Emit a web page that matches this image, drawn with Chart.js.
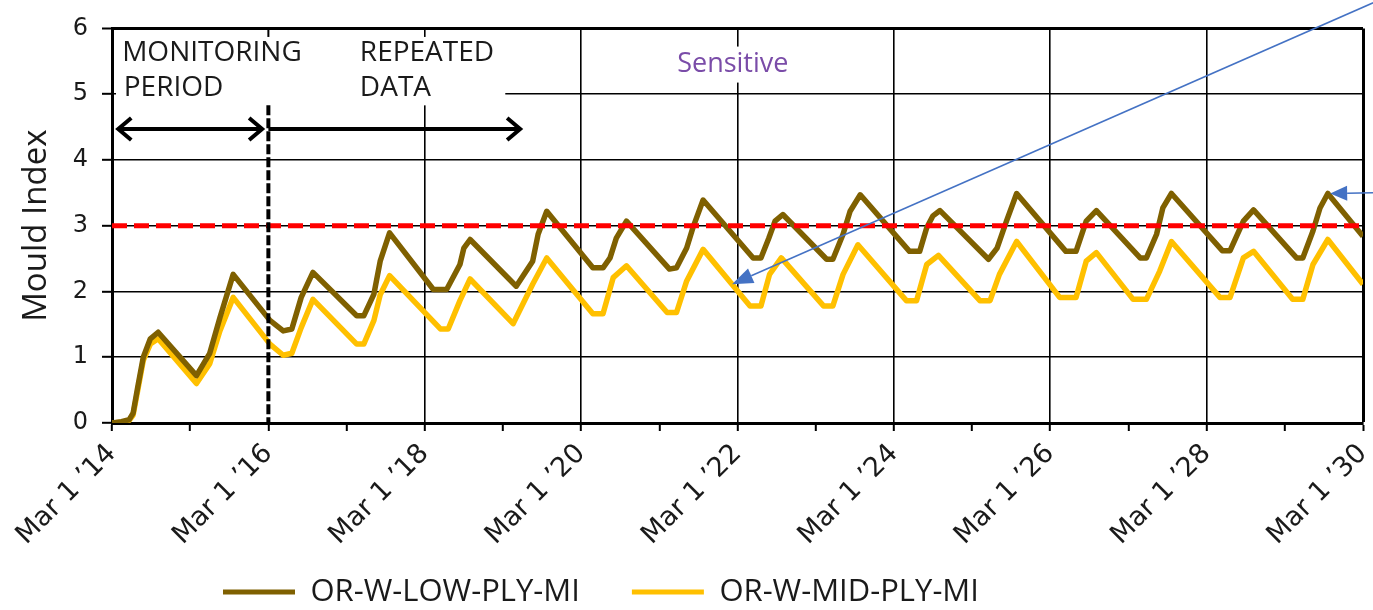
<!DOCTYPE html>
<html>
<head>
<meta charset="utf-8">
<script src="https://cdn.jsdelivr.net/npm/chart.js@4/dist/chart.umd.min.js"></script>
<style>
html,body{margin:0;padding:0;background:#fff;overflow:hidden}
canvas{display:block}
</style>
</head>
<body>
<canvas id="c" width="1373" height="610"></canvas>
<script>
// ---------- DATA ----------
const xTickLabels = ["Mar 1 ’14","Mar 1 ’16","Mar 1 ’18","Mar 1 ’20","Mar 1 ’22","Mar 1 ’24","Mar 1 ’26","Mar 1 ’28","Mar 1 ’30"];
const yTickValues = [0,1,2,3,4,5,6];
const seriesNames = ["OR-W-LOW-PLY-MI","OR-W-MID-PLY-MI"];
const thresholdValue = 3;

// years elapsed since Mar 1 '14
const lowYears = [
  0,0.12,0.22,0.27,0.33,0.40,0.49,0.59,
  1.08,1.25,1.38,1.55,
  2.02,2.19,2.3,2.42,2.57,
  3.13,3.22,3.35,3.43,3.55,
  4.11,4.28,4.45,4.5,4.58,
  5.17,5.38,5.45,5.56,
  6.15,6.28,6.37,6.45,6.58,
  7.13,7.22,7.35,7.43,7.56,
  8.2,8.3,8.4,8.48,8.58,
  9.14,9.22,9.35,9.44,9.57,
  10.2,10.33,10.42,10.5,10.59,
  11.21,11.32,11.44,11.57,
  12.2,12.33,12.46,12.59,
  13.15,13.23,13.36,13.44,13.55,
  14.2,14.3,14.47,14.6,
  15.15,15.23,15.36,15.45,15.55,
  16.0
];
const lowValues = [
  0,0.02,0.05,0.15,0.55,1.0,1.28,1.38,
  0.72,1.06,1.6,2.26,
  1.56,1.40,1.43,1.91,2.29,
  1.63,1.63,1.96,2.46,2.89,
  2.03,2.03,2.41,2.66,2.79,
  2.08,2.46,2.87,3.22,
  2.36,2.36,2.51,2.81,3.07,
  2.34,2.36,2.66,2.97,3.39,
  2.51,2.51,2.81,3.07,3.17,
  2.49,2.49,2.87,3.22,3.47,
  2.61,2.61,2.97,3.15,3.23,
  2.49,2.66,3.07,3.49,
  2.61,2.61,3.07,3.23,
  2.51,2.51,2.87,3.27,3.49,
  2.62,2.62,3.07,3.24,
  2.51,2.51,2.92,3.27,3.49,
  2.84
];
const midYears = [
  0,0.12,0.22,0.27,0.33,0.40,0.49,0.59,
  1.08,1.25,1.38,1.55,
  2.02,2.19,2.3,2.42,2.57,
  3.13,3.22,3.35,3.43,3.55,
  4.2,4.3,4.45,4.58,
  5.13,5.38,5.56,
  6.15,6.28,6.41,6.58,
  7.1,7.22,7.35,7.56,
  8.16,8.3,8.41,8.56,
  9.1,9.22,9.35,9.54,
  10.16,10.29,10.42,10.57,
  11.1,11.23,11.35,11.57,
  12.12,12.33,12.46,12.59,
  13.06,13.23,13.4,13.55,
  14.17,14.3,14.47,14.6,
  15.1,15.23,15.36,15.55,
  16.0
];
const midValues = [
  0,0.01,0.04,0.12,0.5,0.95,1.2,1.28,
  0.60,0.90,1.4,1.91,
  1.2,1.03,1.06,1.45,1.88,
  1.2,1.2,1.56,1.95,2.24,
  1.43,1.43,1.86,2.19,
  1.51,2.11,2.51,
  1.66,1.66,2.21,2.39,
  1.68,1.68,2.16,2.64,
  1.78,1.78,2.26,2.51,
  1.78,1.78,2.26,2.71,
  1.86,1.86,2.41,2.55,
  1.86,1.86,2.26,2.76,
  1.91,1.91,2.46,2.59,
  1.88,1.88,2.31,2.76,
  1.91,1.91,2.51,2.61,
  1.88,1.88,2.41,2.79,
  2.11
];

// ---------- STYLE ----------
const FONT = "'Open Sans', 'DejaVu Sans', sans-serif";
const TICK_FONT = "'DejaVu Sans', 'Open Sans', sans-serif";
const LEG_FONT = 31, LEG_PAD = 52;
const toPts = (xs, ys) => xs.map((x, i) => ({x: x, y: ys[i]}));

const annotations = {
  id: 'annotations',
  afterLayout(chart) {
    // let rotated x labels use the space down to the canvas bottom (no clipping)
    const xs = chart.scales.x;
    if (xs) { xs.bottom = chart.height; xs.height = chart.height - xs.top; }
    const L = chart.legend;
    if (!L || !L.lineWidths) return;
    const pad = L.options.labels.padding;
    const start = (L.left + pad + L.right - L.lineWidths[0]) / 2;
    const dx = 223 - start;
    const dy = 592 - (L.top + pad + LEG_FONT / 2);
    L.left += dx; L.right += dx; L.top += dy; L.bottom += dy;
  },
  beforeDatasetsDraw(chart) {
    const {ctx, chartArea: a, scales: {x, y}} = chart;
    ctx.save();
    // white label box over grid (top-left)
    const bx0 = a.left + 4, bx1 = x.getPixelForValue(5.03);
    const by0 = y.getPixelForValue(5.87), by1 = y.getPixelForValue(4.83);
    ctx.fillStyle = '#fff';
    ctx.fillRect(bx0, by0, bx1 - bx0, by1 - by0);
    // text
    ctx.fillStyle = '#1a1a1a';
    ctx.font = "28px " + FONT;
    ctx.textAlign = 'left';
    ctx.textBaseline = 'middle';
    ctx.fillText('MONITORING', x.getPixelForValue(0.13), y.getPixelForValue(5.62));
    ctx.fillText('PERIOD', x.getPixelForValue(0.15), y.getPixelForValue(5.09));
    ctx.fillText('REPEATED', x.getPixelForValue(3.17), y.getPixelForValue(5.62));
    ctx.fillText('DATA', x.getPixelForValue(3.17), y.getPixelForValue(5.09));
    // Sensitive label
    ctx.font = "27px " + FONT;
    const sx = x.getPixelForValue(7.94), sy = y.getPixelForValue(5.45);
    const sw = ctx.measureText('Sensitive').width;
    ctx.fillStyle = '#fff';
    ctx.fillRect(sx - sw / 2 - 2, sy - 18, sw + 4, 36);
    ctx.fillStyle = '#7a4ca8';
    ctx.textAlign = 'center';
    ctx.fillText('Sensitive', sx, sy);
    // black arrows
    const ay = y.getPixelForValue(4.47);
    const chev = (px, dir) => {
      ctx.beginPath();
      ctx.moveTo(px - dir * 13, ay - 11);
      ctx.lineTo(px, ay);
      ctx.lineTo(px - dir * 13, ay + 11);
      ctx.stroke();
    };
    ctx.strokeStyle = '#000';
    ctx.lineWidth = 4;
    ctx.lineCap = 'butt';
    ctx.lineJoin = 'miter';
    const a0 = x.getPixelForValue(0.08), a1 = x.getPixelForValue(1.92);
    ctx.beginPath(); ctx.moveTo(a0, ay); ctx.lineTo(a1, ay); ctx.stroke();
    chev(a0, -1); chev(a1, 1);
    const b0 = x.getPixelForValue(2.0), b1 = x.getPixelForValue(5.22);
    ctx.beginPath(); ctx.moveTo(b0, ay); ctx.lineTo(b1, ay); ctx.stroke();
    chev(b1, 1);
    ctx.restore();
  },
  afterDatasetsDraw(chart) {
    const {ctx, chartArea: a, scales: {x, y}} = chart;
    ctx.save();
    // dashed vertical line at Mar 1 '16
    const vx = x.getPixelForValue(2);
    ctx.strokeStyle = '#000';
    ctx.lineWidth = 2;
    ctx.beginPath(); ctx.moveTo(vx, a.top); ctx.lineTo(vx, y.getPixelForValue(5.87)); ctx.stroke();
    ctx.lineWidth = 4;
    ctx.setLineDash([10, 3]);
    ctx.beginPath(); ctx.moveTo(vx, y.getPixelForValue(4.83)); ctx.lineTo(vx, a.bottom); ctx.stroke();
    ctx.setLineDash([]);
    // blue callout arrows
    const arrow = (x0, y0, x1, y1, len, hw) => {
      ctx.strokeStyle = '#4472c4';
      ctx.fillStyle = '#4472c4';
      ctx.lineWidth = 1.5;
      const ang = Math.atan2(y1 - y0, x1 - x0);
      const bx = x1 - Math.cos(ang) * len, by = y1 - Math.sin(ang) * len;
      ctx.beginPath(); ctx.moveTo(x0, y0); ctx.lineTo(bx, by); ctx.stroke();
      ctx.beginPath();
      ctx.moveTo(x1, y1);
      ctx.lineTo(bx - Math.sin(ang) * hw, by + Math.cos(ang) * hw);
      ctx.lineTo(bx + Math.sin(ang) * hw, by - Math.cos(ang) * hw);
      ctx.closePath(); ctx.fill();
    };
    arrow(x.getPixelForValue(16.13), y.getPixelForValue(6.39), x.getPixelForValue(7.93), y.getPixelForValue(2.11), 21, 8);
    arrow(x.getPixelForValue(16.13), y.getPixelForValue(3.5), x.getPixelForValue(15.58), y.getPixelForValue(3.49), 17, 7.5);
    ctx.restore();
  }
};

new Chart(document.getElementById('c'), {
  type: 'line',
  data: {
    datasets: [
      {
        label: seriesNames[0],
        data: toPts(lowYears, lowValues),
        borderColor: '#7f6000',
        backgroundColor: '#7f6000',
        borderWidth: 5.5,
        pointRadius: 0,
        tension: 0,
        borderJoinStyle: 'round',
        order: 1
      },
      {
        label: seriesNames[1],
        data: toPts(midYears, midValues),
        borderColor: '#ffc000',
        backgroundColor: '#ffc000',
        borderWidth: 5.5,
        pointRadius: 0,
        tension: 0,
        borderJoinStyle: 'round',
        order: 2
      },
      {
        label: 'threshold',
        data: [{x: 0, y: thresholdValue}, {x: 16, y: thresholdValue}],
        borderColor: '#ff0000',
        backgroundColor: '#ff0000',
        borderWidth: 5,
        borderDash: [15, 7],
        pointRadius: 0,
        order: 0
      }
    ]
  },
  options: {
    responsive: false,
    animation: false,
    events: [],
    layout: {padding: {top: 26, right: 10, left: 0, bottom: 0}},
    scales: {
      x: {
        type: 'linear',
        min: 0, max: 16,
        afterFit: s => {
          const lh = s.chart.legend ? s.chart.legend.height : 93;
          s.height = 187 - lh;
          s.paddingLeft = 0; s.paddingRight = 0;
        },
        ticks: {
          stepSize: 1,
          autoSkip: false,
          maxRotation: 45, minRotation: 45,
          padding: 7,
          color: '#1a1a1a',
          font: {family: TICK_FONT, size: 27},
          callback: v => (v % 2 === 0 ? xTickLabels[v / 2] : '')
        },
        grid: {
          color: c => (c.tick && c.tick.value % 2 === 0 && c.tick.value !== 2 ? '#000' : 'rgba(0,0,0,0)'),
          lineWidth: c => (c.tick && c.tick.value === 16 ? 3 : 1.6),
          tickColor: '#000',
          tickWidth: 2,
          tickLength: 8
        },
        border: {display: true, color: '#000', width: 3}
      },
      y: {
        min: 0, max: 6,
        afterFit: s => { s.width = 112; },
        afterBuildTicks: s => { s.ticks = yTickValues.map(v => ({value: v})); },
        ticks: {
          padding: 14,
          color: '#1a1a1a',
          font: {family: TICK_FONT, size: 24}
        },
        title: {
          display: true,
          text: 'Mould Index',
          color: '#1a1a1a',
          font: {family: FONT, size: 33},
          padding: {top: 17, bottom: 0}
        },
        grid: {
          color: '#000',
          lineWidth: c => (c.tick && c.tick.value === 6 ? 3 : 1.6),
          tickColor: '#000',
          tickWidth: 2,
          tickLength: 10
        },
        border: {display: true, color: '#000', width: 3}
      }
    },
    plugins: {
      tooltip: {enabled: false},
      legend: {
        position: 'bottom',
        labels: {
          color: '#1a1a1a',
          font: {family: FONT, size: LEG_FONT},
          boxWidth: 72,
          boxHeight: 5,
          padding: LEG_PAD,
          generateLabels: chart => Chart.defaults.plugins.legend.labels.generateLabels(chart)
            .filter(l => l.datasetIndex < 2)
            .map(l => Object.assign(l, {lineWidth: 0, fillStyle: l.strokeStyle, lineDash: []}))
        }
      }
    }
  },
  plugins: [annotations]
});
</script>
</body>
</html>
